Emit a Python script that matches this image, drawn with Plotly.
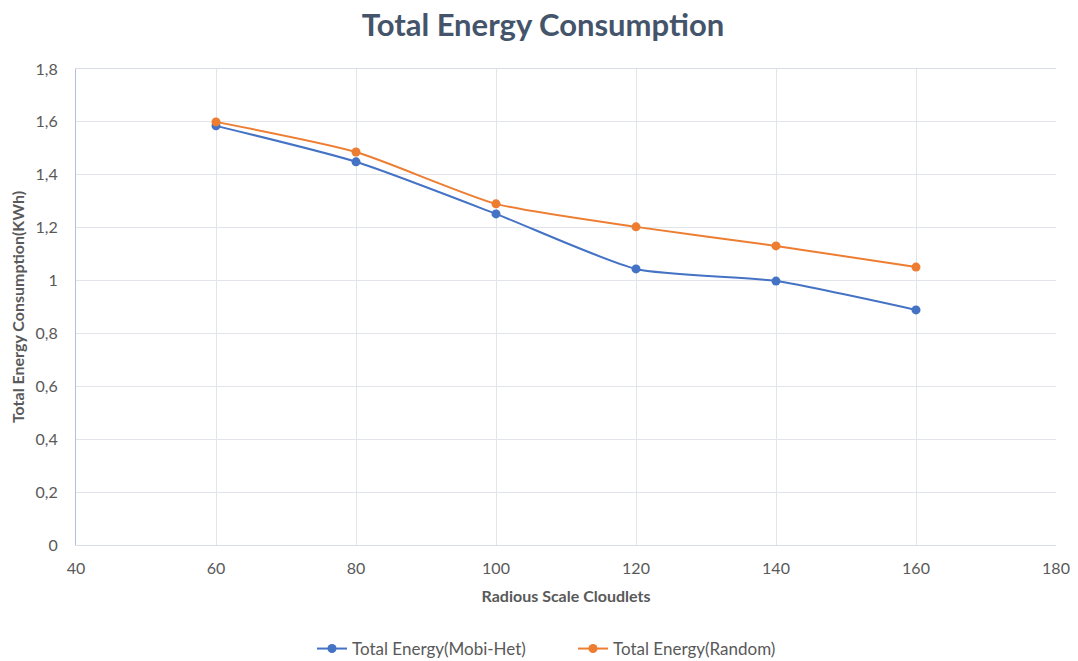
import plotly.graph_objects as go

x_vals = [60, 80, 100, 120, 140, 160]
mobi_het = [1.585, 1.449, 1.252, 1.044, 0.998, 0.889]
random_vals = [1.600, 1.486, 1.290, 1.203, 1.131, 1.051]
y_tick_vals = [0, 0.2, 0.4, 0.6, 0.8, 1.0, 1.2, 1.4, 1.6, 1.8]
y_tick_text = ["0", "0,2", "0,4", "0,6", "0,8", "1", "1,2", "1,4", "1,6", "1,8"]
x_tick_vals = [40, 60, 80, 100, 120, 140, 160, 180]

FONT = "Lato, Open Sans, sans-serif"
TXT = "#595959"
W, H = 1070, 653

fig = go.Figure()
fig.add_trace(go.Scatter(
    x=x_vals, y=mobi_het, name="Total Energy(Mobi-Het)",
    mode="lines+markers", line=dict(color="#4472C4", width=2, shape="spline", smoothing=0.6),
    marker=dict(color="#4472C4", size=9)))
fig.add_trace(go.Scatter(
    x=x_vals, y=random_vals, name="Total Energy(Random)",
    mode="lines+markers", line=dict(color="#ED7D31", width=2, shape="spline", smoothing=0.6),
    marker=dict(color="#ED7D31", size=9)))

fig.update_layout(
    width=W, height=H,
    margin=dict(l=68, r=22, t=61, b=116, autoexpand=False),
    paper_bgcolor="white", plot_bgcolor="white",
    title=dict(text="<b>Total Energy Consumption</b>", x=0.5, xanchor="center",
               xref="container", yref="container",
               y=1 - 17 / H, yanchor="middle",
               font=dict(family=FONT, size=31, color="#44546A")),
    font=dict(family=FONT, color=TXT, size=16),
    legend=dict(orientation="h", x=304 / W, xanchor="left", xref="container", yref="container",
                y=12 / H, yanchor="middle", entrywidth=216, entrywidthmode="pixels",
                font=dict(family=FONT, size=17, color=TXT), itemwidth=30),
    xaxis=dict(range=[40, 180], tickvals=x_tick_vals, showgrid=True, gridcolor="#E1E4EA",
               gridwidth=1, zeroline=False, showline=True, linecolor="#D9DEE6", mirror=True,
               automargin=False,
               ticks="", ticklabelstandoff=9, tickfont=dict(size=16, color=TXT),
               title=dict(text="<b>Radious Scale Cloudlets</b>", font=dict(size=16, color=TXT), standoff=14)),
    yaxis=dict(range=[0, 1.8], tickvals=y_tick_vals, ticktext=y_tick_text, showgrid=True,
               gridcolor="#E1E4EA", gridwidth=1, zeroline=False, showline=True,
               automargin=False,
               linecolor="#B4C0D3", ticks="", ticklabelstandoff=14, tickfont=dict(size=16, color=TXT),
               title=dict(text="<b>Total Energy Consumption(KWh)</b>", font=dict(size=16, color=TXT), standoff=8)),
)

fig.write_html("out.html")
